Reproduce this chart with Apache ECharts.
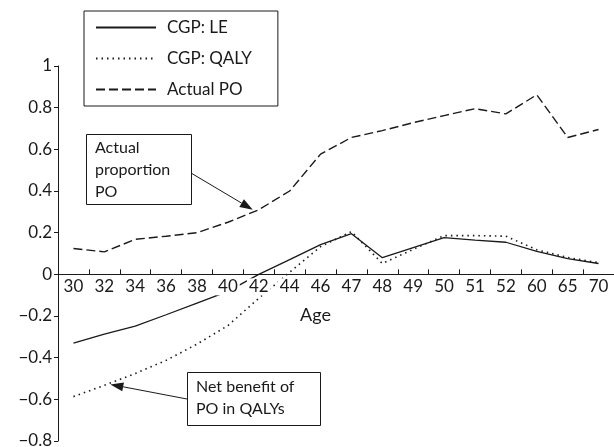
<!DOCTYPE html>
<html>
<head>
<meta charset="utf-8">
<script src="https://cdn.jsdelivr.net/npm/echarts@6/dist/echarts.min.js"></script>
<style>
html,body{margin:0;padding:0;background:#fff;}
#chart{width:614px;height:447px;}
</style>
</head>
<body>
<div id="chart"></div>
<script>
var ages = ['30','32','34','36','38','40','42','44','46','47','48','49','50','51','52','60','65','70'];
var cgpLE = [-0.33, -0.287, -0.249, -0.194, -0.138, -0.082, 0.0, 0.071, 0.143, 0.195, 0.08, 0.128, 0.176, 0.164, 0.154, 0.11, 0.075, 0.052];
var cgpQALY = [-0.587, -0.533, -0.476, -0.413, -0.335, -0.246, -0.115, 0.01, 0.133, 0.205, 0.052, 0.12, 0.186, 0.186, 0.183, 0.118, 0.081, 0.056];
var actualPO = [0.124, 0.108, 0.168, 0.183, 0.2, 0.25, 0.31, 0.40, 0.577, 0.657, 0.69, 0.728, 0.762, 0.795, 0.77, 0.862, 0.657, 0.695];
var seriesNames = ['CGP: LE', 'CGP: QALY', 'Actual PO'];

var FONT = 'Lato';
var INK = '#1a1a1a';
var chart = echarts.init(document.getElementById('chart'), null, {renderer: 'canvas'});

function fmtY(v) {
  var r = Math.round(v * 10) / 10;
  if (r === 0) return '0';
  if (r === 1) return '1';
  var s = Math.abs(r).toFixed(1);
  return (r < 0 ? '\u2212' : '') + s;
}

var option = {
  animation: false,
  backgroundColor: '#fff',
  grid: {left: 58, right: 0, top: 66, bottom: 6, containLabel: false, outerBoundsMode: 'none'},
  legend: {
    orient: 'vertical',
    left: 84, top: 11,
    padding: [8, 26, 8, 11],
    borderColor: INK, borderWidth: 1,
    itemWidth: 60, itemHeight: 14, itemGap: 14,
    itemStyle: {opacity: 0},
    textStyle: {fontFamily: FONT, fontSize: 17, color: INK, padding: [0, 0, 0, 6]},
    data: seriesNames
  },
  xAxis: {
    type: 'category',
    data: ages,
    boundaryGap: true,
    z: 10,
    axisLine: {onZero: false, lineStyle: {color: INK, width: 1}},
    axisTick: {show: true, inside: true, length: 5, lineStyle: {color: INK}},
    axisLabel: {interval: 0, fontFamily: FONT, fontSize: 17, color: INK, margin: 4,
      backgroundColor: '#fff', padding: [0, 2, 0, 2]},
    splitLine: {show: false}
  },
  yAxis: {
    type: 'value',
    min: -0.8, max: 1, interval: 0.2,
    axisLine: {show: true, lineStyle: {color: INK, width: 1}},
    axisTick: {show: true, length: 4, lineStyle: {color: INK}},
    axisLabel: {fontFamily: FONT, fontSize: 17, color: INK, margin: 6, formatter: fmtY},
    splitLine: {show: false}
  },
  series: [
    {name: seriesNames[0], type: 'line', data: cgpLE, symbol: 'none',
     lineStyle: {color: INK, width: 1.3, type: 'solid'}, itemStyle: {color: INK}, z: 3},
    {name: seriesNames[1], type: 'line', data: cgpQALY, symbol: 'none',
     lineStyle: {color: INK, width: 1.6, type: [1.5, 4]}, itemStyle: {color: INK}, z: 3},
    {name: seriesNames[2], type: 'line', data: actualPO, symbol: 'none',
     lineStyle: {color: INK, width: 1.4, type: [9, 4]}, itemStyle: {color: INK}, z: 3}
  ]
};
chart.setOption(option);

// move the category axis up onto y = 0
var zeroPx = chart.convertToPixel({yAxisIndex: 0}, 0);
var bottomPx = chart.convertToPixel({yAxisIndex: 0}, -0.8);
chart.setOption({xAxis: {offset: -(bottomPx - zeroPx)}});

function arrow(from, tip) {
  var dx = tip[0] - from[0], dy = tip[1] - from[1];
  var L = Math.sqrt(dx * dx + dy * dy);
  var ux = dx / L, uy = dy / L;
  var hl = 13, hw = 4.5;
  var bx = tip[0] - ux * hl, by = tip[1] - uy * hl;
  return [
    {type: 'line', shape: {x1: from[0], y1: from[1], x2: bx, y2: by},
     style: {stroke: INK, lineWidth: 1}, z: 20},
    {type: 'polygon', shape: {points: [tip, [bx - uy * hw, by + ux * hw], [bx + uy * hw, by - ux * hw]]},
     style: {fill: INK}, z: 20}
  ];
}

var tip1 = chart.convertToPixel({xAxisIndex: 0, yAxisIndex: 0}, [ages[6], actualPO[6]]);
tip1 = [tip1[0] - 6, tip1[1]];
var tip2 = chart.convertToPixel({xAxisIndex: 0, yAxisIndex: 0}, [ages[1], cgpQALY[1]]);
tip2 = [tip2[0] + 6, tip2[1] - 1];

var g = [];
g.push({type: 'rect', shape: {x: 86.5, y: 134.5, width: 105, height: 70},
  style: {fill: '#fff', stroke: INK, lineWidth: 1}, z: 15});
g.push({type: 'text', x: 95, y: 137, z: 16,
  style: {text: 'Actual\nproportion\nPO', font: '16px ' + FONT, fill: INK, lineHeight: 22}});
g.push({type: 'rect', shape: {x: 187.5, y: 372.5, width: 133, height: 53},
  style: {fill: '#fff', stroke: INK, lineWidth: 1}, z: 15});
g.push({type: 'text', x: 196, y: 376, z: 16,
  style: {text: 'Net benefit of\nPO in QALYs', font: '16px ' + FONT, fill: INK, lineHeight: 22}});
g.push({type: 'text', x: 300, y: 306, z: 16,
  style: {text: 'Age', font: '18px ' + FONT, fill: INK}});
g = g.concat(arrow([191, 173], tip1));
g = g.concat(arrow([187, 399], tip2));
chart.setOption({graphic: g});
</script>
</body>
</html>
